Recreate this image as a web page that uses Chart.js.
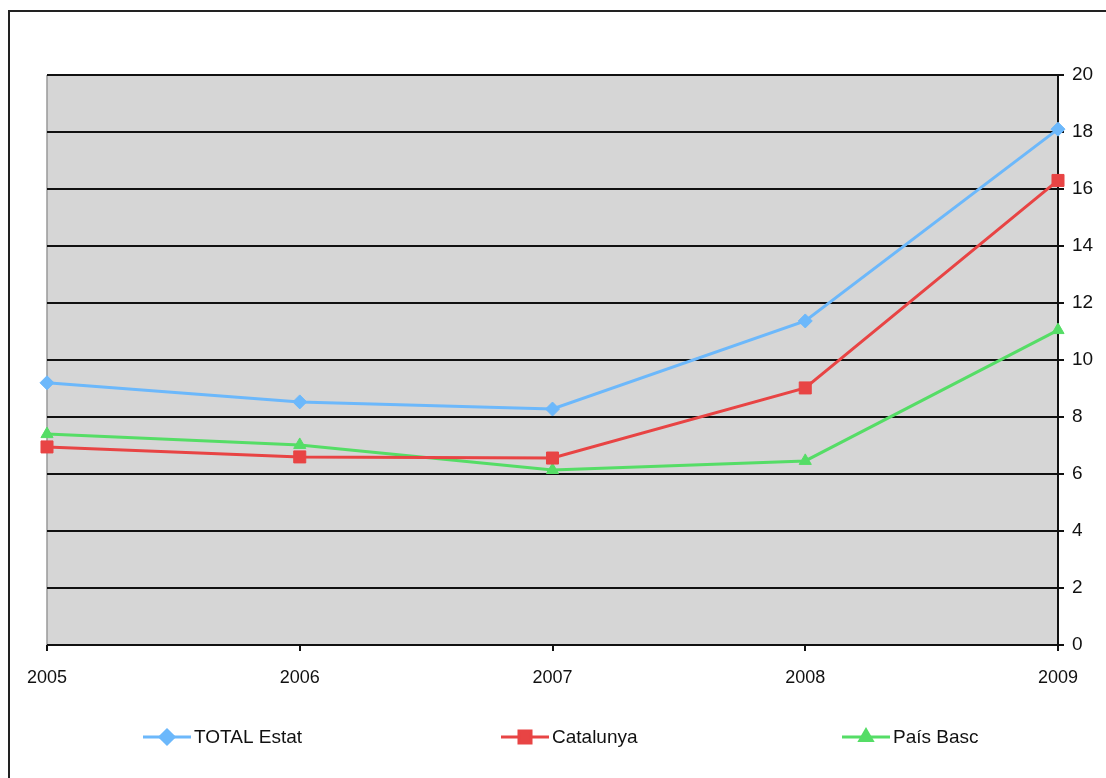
<!DOCTYPE html>
<html>
<head>
<meta charset="utf-8">
<script src="https://cdn.jsdelivr.net/npm/chart.js@4/dist/chart.umd.min.js"></script>
<style>
  html, body { margin: 0; padding: 0; background: #fff; }
  #wrap { width: 1106px; height: 778px; position: relative; }
</style>
</head>
<body>
<div id="wrap"><canvas id="graphique"></canvas></div>
<script>
// donnees
const annees = ['2005', '2006', '2007', '2008', '2009'];
const total_estat = [9.2, 8.53, 8.28, 11.37, 18.1];
const catalunya = [6.95, 6.6, 6.56, 9.02, 16.3];
const pais_basc = [7.4, 7.02, 6.14, 6.46, 11.05];
const noms_series = ['TOTAL Estat', 'Catalunya', 'País Basc'];

const police = 'Liberation Sans, Arial, sans-serif';

// fond gris + cadre exterieur
const fondPlugin = {
  id: 'fond',
  beforeDraw(chart) {
    const ctx = chart.ctx;
    const a = chart.chartArea;
    ctx.save();
    ctx.fillStyle = '#d6d6d6';
    ctx.fillRect(a.left, a.top, a.right - a.left, a.bottom - a.top);
    ctx.strokeStyle = '#999';
    ctx.lineWidth = 1.5;
    ctx.beginPath();
    ctx.moveTo(a.left, a.top);
    ctx.lineTo(a.left, a.bottom);
    ctx.stroke();
    ctx.strokeStyle = '#222';
    ctx.lineWidth = 2;
    ctx.strokeRect(9, 11, 1200, 1000);
    ctx.restore();
  }
};

// legende a la Excel, trois colonnes
const legendePlugin = {
  id: 'legende',
  afterDraw(chart) {
    const ctx = chart.ctx;
    const posX = [143, 501, 842];
    const y = 737;
    ctx.save();
    chart.data.datasets.forEach((ds, i) => {
      const x = posX[i];
      ctx.strokeStyle = ds.borderColor;
      ctx.lineWidth = 3;
      ctx.beginPath();
      ctx.moveTo(x, y);
      ctx.lineTo(x + 48, y);
      ctx.stroke();
      ctx.fillStyle = ds.backgroundColor;
      ctx.strokeStyle = ds.borderColor;
      Chart.helpers.drawPoint(ctx, {
        pointStyle: ds.pointStyle,
        radius: ds.pointRadius,
        rotation: 0,
        borderWidth: 1
      }, x + 24, y);
      ctx.fillStyle = '#111';
      ctx.font = '19px ' + police;
      ctx.textBaseline = 'middle';
      ctx.fillText(ds.label, x + 51, y + 1);
    });
    ctx.restore();
  }
};

function serie(label, data, couleur, style, rayon) {
  return {
    label: label,
    data: data,
    borderColor: couleur,
    backgroundColor: couleur,
    borderWidth: 3,
    pointStyle: style,
    pointRadius: rayon,
    pointHoverRadius: rayon,
    pointBorderWidth: 1,
    tension: 0
  };
}

new Chart(document.getElementById('graphique'), {
  type: 'line',
  data: {
    labels: annees,
    datasets: [
      serie(noms_series[0], total_estat, '#6cb8fb', 'rectRot', 7),
      serie(noms_series[1], catalunya, '#e84444', 'rect', 8.5),
      serie(noms_series[2], pais_basc, '#55dd66', 'triangle', 7)
    ]
  },
  options: {
    responsive: true,
    maintainAspectRatio: false,
    animation: false,
    layout: { padding: { top: 75, left: 47, right: 0, bottom: 0 } },
    plugins: {
      legend: { display: false },
      tooltip: { enabled: false }
    },
    scales: {
      x: {
        offset: false,
        afterFit: (scale) => { scale.height = 133; },
        grid: {
          drawOnChartArea: false,
          drawTicks: true,
          tickLength: 6,
          color: '#111',
          lineWidth: 2
        },
        border: { display: false },
        ticks: {
          color: '#111',
          font: { family: police, size: 18 },
          padding: 16,
          maxRotation: 0,
          autoSkip: false
        }
      },
      y: {
        position: 'right',
        min: 0,
        max: 20,
        afterFit: (scale) => { scale.width = 48; },
        grid: {
          color: '#111',
          lineWidth: 2,
          drawTicks: true,
          tickLength: 6
        },
        border: { display: true, color: '#111', width: 2 },
        ticks: {
          stepSize: 2,
          color: '#111',
          font: { family: police, size: 19 },
          padding: 8
        }
      }
    }
  },
  plugins: [fondPlugin, legendePlugin]
});
</script>
</body>
</html>
